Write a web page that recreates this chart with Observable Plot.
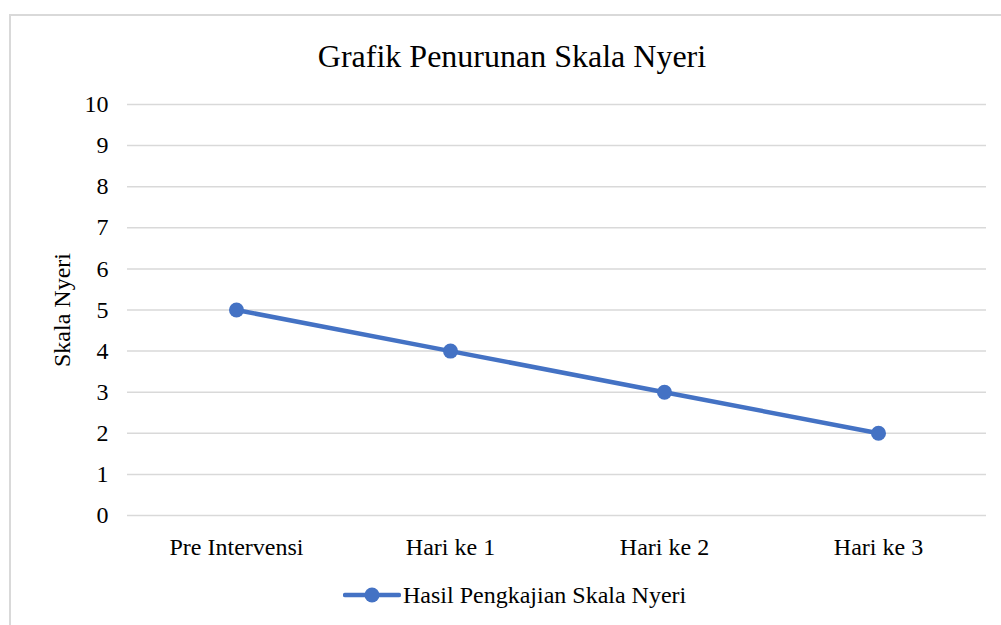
<!DOCTYPE html>
<html>
<head>
<meta charset="utf-8">
<script src="https://cdn.jsdelivr.net/npm/d3@7"></script>
<script src="https://cdn.jsdelivr.net/npm/@observablehq/plot@0.6"></script>
<style>
  html, body { margin: 0; padding: 0; background: #fff; overflow: hidden; }
  body { width: 1001px; height: 625px; position: relative; font-family: "Liberation Serif", "Times New Roman", serif; color: #000; }
  #frame { position: absolute; left: 9px; top: 14px; width: 1100px; height: 700px; border: 2px solid #d9d9d9; box-sizing: border-box; }
  #title { position: absolute; left: 0; width: 1024px; top: 38px; text-align: center; font-size: 32px; line-height: 36px; }
  #chart { position: absolute; left: 0; top: 0; }
  #legend { position: absolute; top: 582px; left: 343px; display: flex; align-items: center; font-size: 24px; line-height: 26px; }
  #legend svg { margin-right: 2px; }
</style>
</head>
<body>
<div id="frame"></div>
<div id="title">Grafik Penurunan Skala Nyeri</div>
<div id="chart"></div>
<div id="legend"></div>
<script>
const categories = ["Pre Intervensi", "Hari ke 1", "Hari ke 2", "Hari ke 3"];
const values = [5, 4, 3, 2];
const yTicks = [0, 1, 2, 3, 4, 5, 6, 7, 8, 9, 10];
const seriesName = "Hasil Pengkajian Skala Nyeri";
const yLabel = "Skala Nyeri";

const data = categories.map((c, i) => ({category: c, value: values[i]}));
const color = "#4472C4";

const chart = Plot.plot({
  width: 1001,
  height: 565,
  marginTop: 104,
  marginBottom: 50,
  marginLeft: 127,
  marginRight: 15,
  style: {fontFamily: "'Liberation Serif', 'Times New Roman', serif", fontSize: "24px", color: "#000", background: "transparent"},
  x: {type: "point", domain: categories, padding: 0.5, label: null},
  y: {domain: [0, 10], ticks: yTicks, label: null},
  marks: [
    Plot.gridY(yTicks, {stroke: "#d9d9d9", strokeOpacity: 1, strokeWidth: 1.5}),
    Plot.axisX({tickSize: 0, tickPadding: 22, label: null}),
    Plot.axisY(yTicks, {tickSize: 0, tickPadding: 19, label: null}),
    Plot.text([yLabel], {frameAnchor: "left", textAnchor: "middle", dx: -65, rotate: -90, text: d => d, fontSize: 24, y: () => 5}),
    Plot.line(data, {x: "category", y: "value", stroke: color, strokeWidth: 4.5}),
    Plot.dot(data, {x: "category", y: "value", fill: color, r: 7.5})
  ]
});
document.getElementById("chart").appendChild(chart);

const legend = document.getElementById("legend");
legend.innerHTML = `<svg width="58" height="20"><line x1="2" y1="10" x2="56" y2="10" stroke="${color}" stroke-width="4.5" stroke-linecap="round"/><circle cx="29" cy="10" r="7.5" fill="${color}"/></svg><span>${seriesName}</span>`;
</script>
</body>
</html>
